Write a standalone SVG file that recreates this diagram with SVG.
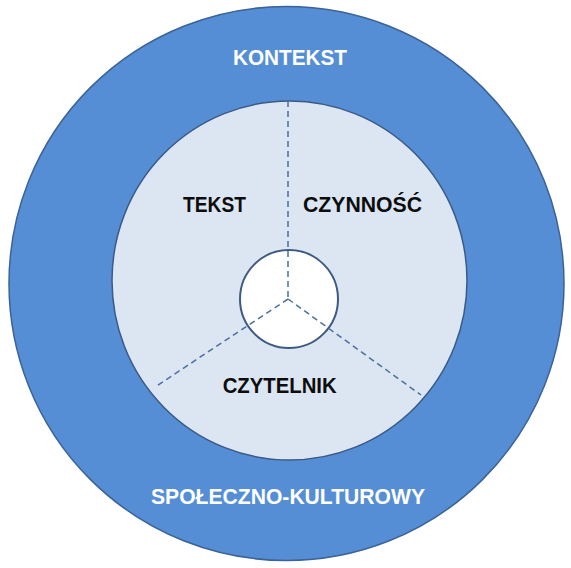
<svg xmlns="http://www.w3.org/2000/svg" width="571" height="568" viewBox="0 0 571 568">
<style>
.lbl{font-family:"Liberation Sans",Arial,sans-serif;font-weight:bold;font-size:22px;text-anchor:middle}
.dark{fill:#0d0d0d}
.light{fill:#ffffff}
.dash{stroke:#4a6fa0;stroke-width:1.5;stroke-dasharray:6,4;fill:none}
</style>
<rect width="571" height="568" fill="#ffffff"/>
<g id="outer">
<ellipse cx="286.5" cy="283.5" rx="277.5" ry="277" fill="#558ed5" stroke="#3b6397" stroke-width="1.5"/>
<text class="lbl light" x="290" y="65" textLength="114" lengthAdjust="spacingAndGlyphs">KONTEKST</text>
<text class="lbl light" x="288" y="504" textLength="274" lengthAdjust="spacingAndGlyphs">SPOŁECZNO-KULTUROWY</text>
</g>
<g id="inner">
<ellipse cx="289.5" cy="280.5" rx="177.5" ry="179.5" fill="#dce6f2" stroke="#3b5a85" stroke-width="1.5"/>
</g>
<g id="center">
<circle cx="289" cy="299" r="49" fill="#ffffff" stroke="#3f5a80" stroke-width="2"/>
</g>
<g id="connectors">
<line class="dash" x1="288" y1="101" x2="288" y2="299"/>
<line class="dash" x1="288" y1="299" x2="155" y2="387"/>
<line class="dash" x1="288" y1="299" x2="421" y2="395"/>
</g>
<g id="tekst"><text class="lbl dark" x="214.5" y="212" textLength="63" lengthAdjust="spacingAndGlyphs">TEKST</text></g>
<g id="czynnosc"><text class="lbl dark" x="362.5" y="212" textLength="119" lengthAdjust="spacingAndGlyphs">CZYNNOŚĆ</text></g>
<g id="czytelnik"><text class="lbl dark" x="279.7" y="393" textLength="114" lengthAdjust="spacingAndGlyphs">CZYTELNIK</text></g>
</svg>
